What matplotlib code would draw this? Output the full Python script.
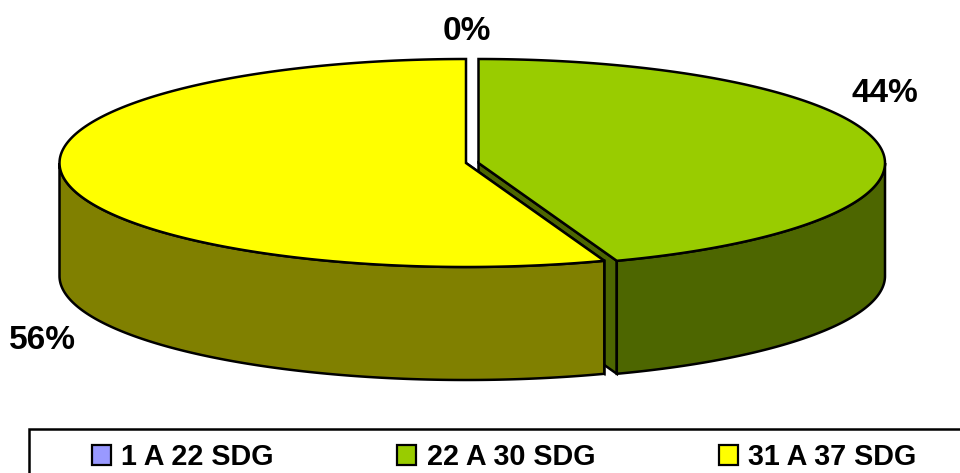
import numpy as np
import matplotlib
matplotlib.use("Agg")
import matplotlib.pyplot as plt
from matplotlib.patches import Patch, Polygon, Rectangle

categories = ["1 A 22 SDG", "22 A 30 SDG", "31 A 37 SDG"]
shares = [0, 44, 56]
share_labels = ["0%", "44%", "56%"]
top_colors = ["#9999FF", "#99CC00", "#FFFF00"]
side_colors = ["#4D4D80", "#4D6600", "#808000"]

# Projection of the exploded tilted pie, in pixel units
RX, RY, DEPTH = 406.5, 104, 113
CY = 163
CENTER_X = {"22 A 30 SDG": 478.5, "31 A 37 SDG": 466}
WARP = -2.5  # slight foreshortening of the angles from the perspective view
EDGE = dict(edgecolor="black", linewidth=1.8, joinstyle="miter")

plt.rcParams["font.family"] = ["Liberation Sans", "DejaVu Sans"]

fig = plt.figure(figsize=(9.6, 4.73), dpi=100)
ax = fig.add_axes([0, 0, 1, 1])
ax.set_xlim(0, 960)
ax.set_ylim(473, 0)
ax.axis("off")


def rim(cx, a0, a1, n=240):
    """Points on the top ellipse for clockwise angles (degrees from 12 o'clock)."""
    a = np.linspace(a0, a1, n)
    t = np.radians(a + WARP * np.sin(np.radians(2 * a)))
    return np.column_stack([cx + RX * np.sin(t), CY - RY * np.cos(t)])


def draw_wedge(name, a0, a1, top, side):
    cx = CENTER_X[name]
    apex = np.array([[cx, CY]])
    down = np.array([0, DEPTH])
    pts = rim(cx, a0, a1)

    # Cut faces seen from the front
    for angle in (a0, a1):
        edge = rim(cx, angle, angle, 1)
        if edge[0, 1] > CY and edge[0, 0] > cx:
            face = np.vstack([apex, edge, edge + down, apex + down])
            ax.add_patch(Polygon(face, facecolor=side, **EDGE))

    # Outer wall: only the arc facing the viewer
    lo, hi = max(a0, 90), min(a1, 270)
    if hi > lo:
        arc = rim(cx, lo, hi)
        wall = np.vstack([arc, arc[::-1] + down])
        ax.add_patch(Polygon(wall, facecolor=side, **EDGE))

    # Top surface
    ax.add_patch(Polygon(np.vstack([apex, pts]), facecolor=top, **EDGE))


total = sum(shares)
start = 0.0
for name, share, top, side in zip(categories, shares, top_colors, side_colors):
    sweep = 360.0 * share / total
    if sweep > 0:
        draw_wedge(name, start, start + sweep, top, side)
    start += sweep

label_style = dict(fontsize=24, fontweight="bold", ha="center", va="center", color="black")
for text, xy in zip(share_labels, [(467, 32), (885, 94), (42, 340)]):
    ax.text(*xy, text, **label_style)

# Legend frame runs off the right and bottom edges of the figure
ax.add_patch(Rectangle((29, 429), 960, 80, facecolor="white", edgecolor="black",
                       linewidth=1.8, clip_on=True))

handles = [Patch(facecolor=c, edgecolor="black", linewidth=1.6) for c in top_colors]
fig.legend(
    handles, categories, ncol=3, loc="center left",
    bbox_to_anchor=(92 / 960, 1 - 457 / 473), bbox_transform=fig.transFigure,
    borderaxespad=0, borderpad=0, frameon=False,
    prop=dict(size=20.7, weight="bold"),
    handlelength=0.66, handleheight=0.66, handletextpad=0.36,
    columnspacing=4.3,
)

fig.savefig("out.png", dpi=100)
